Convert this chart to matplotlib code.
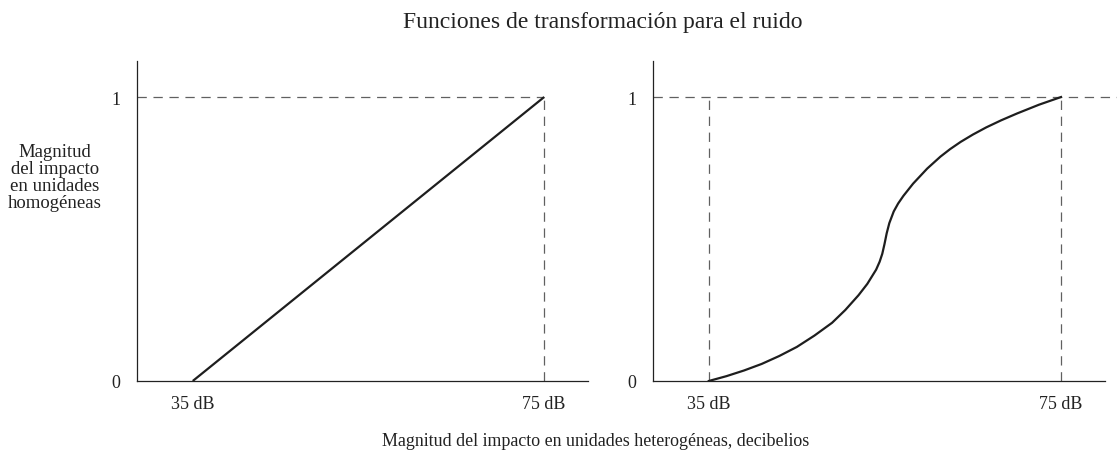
import matplotlib
matplotlib.use('Agg')
import matplotlib.pyplot as plt

plt.rcParams['font.family'] = ['Liberation Serif', 'DejaVu Serif']
plt.rcParams['lines.scale_dashes'] = False

# data
lin_db = [35, 75]
lin_val = [0, 1]

curve_db = [35.0, 37.0, 39.0, 41.0, 43.0, 45.0, 47.0, 49.0, 50.5, 52.0,
            53.0, 54.0, 54.4, 54.7, 54.95, 55.2, 55.5, 56.0, 56.5, 57.1,
            58.2, 59.8, 61.3, 62.4, 63.6, 65.0, 66.5, 68.2, 70.0, 72.5,
            75.0]
curve_val = [0.0, 0.017, 0.037, 0.060, 0.088, 0.120, 0.160, 0.205, 0.250,
             0.302, 0.342, 0.392, 0.420, 0.448, 0.482, 0.520, 0.556, 0.597,
             0.625, 0.652, 0.695, 0.748, 0.790, 0.8165, 0.842, 0.868, 0.893,
             0.918, 0.942, 0.973, 1.0]

tick_db = [35, 75]
tick_labels = ['35 dB', '75 dB']
y_ticks = [0, 1]

title = 'Funciones de transformación para el ruido'
xlabel = 'Magnitud del impacto en unidades heterogéneas, decibelios'
ylabel = 'Magnitud\ndel impacto\nen unidades\nhomogéneas'

XLIM = (28.66, 80.0)
YLIM = (0, 1.127)
DASH = dict(color='#606060', linewidth=0.9, linestyle=(0, (6.7, 4.8)))

fig = plt.figure(figsize=(11.17, 4.52), dpi=100)
ax1 = fig.add_axes([0.1227, 0.1549, 0.4038, 0.708])
ax2 = fig.add_axes([0.5846, 0.1549, 0.4047, 0.708])

for ax in (ax1, ax2):
    ax.set_xlim(*XLIM)
    ax.set_ylim(*YLIM)
    ax.spines['top'].set_visible(False)
    ax.spines['right'].set_visible(False)
    for s in ('left', 'bottom'):
        ax.spines[s].set_linewidth(0.9)
        ax.spines[s].set_color('#222222')
    ax.set_xticks(tick_db)
    ax.set_xticklabels(tick_labels)
    ax.set_yticks(y_ticks)
    ax.tick_params(length=0, labelsize=13, labelcolor='#222222')
    ax.tick_params(axis='x', pad=10)
    ax.tick_params(axis='y', pad=12)

# left: linear
ax1.plot([XLIM[0], tick_db[1]], [1, 1], **DASH)
ax1.plot([tick_db[1], tick_db[1]], [0, 1], **DASH)
ax1.plot(lin_db, lin_val, color='#1e1e1e', linewidth=1.6, solid_capstyle='butt')

# right: S-curve
ax2.plot([XLIM[0], 81.5], [1, 1], clip_on=False, **DASH)
ax2.plot([tick_db[0], tick_db[0]], [0, 1], **DASH)
ax2.plot([tick_db[1], tick_db[1]], [0, 1], **DASH)
ax2.plot(curve_db, curve_val, color='#1e1e1e', linewidth=1.6,
         solid_joinstyle='round')

fig.text(0.540, 0.951, title, ha='center', va='center', fontsize=17,
         color='#222222')
fig.text(0.5336, 0.0243, xlabel, ha='center', va='center', fontsize=12.9,
         color='#222222')
fig.text(0.049, 0.606, ylabel, ha='center', va='center', fontsize=13.5,
         multialignment='center', linespacing=1.0, color='#222222')

fig.savefig('out.png', dpi=100)
